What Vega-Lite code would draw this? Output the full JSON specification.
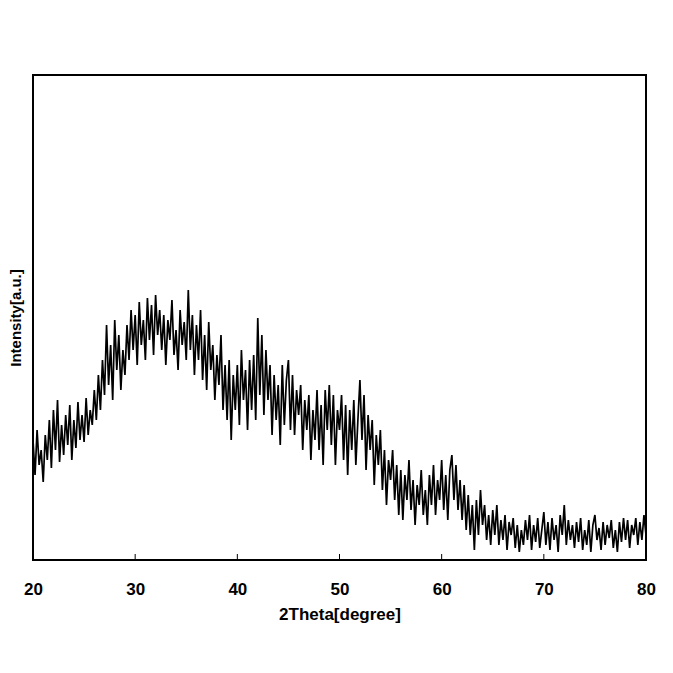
{
  "$schema": "https://vega.github.io/schema/vega-lite/v6.json",
  "autosize": "none",
  "width": 613,
  "height": 485,
  "padding": {"left": 33, "top": 75, "right": 27, "bottom": 113},
  "background": "white",
  "config": {
    "view": {"stroke": "black", "strokeWidth": 2},
    "axis": {"grid": false, "domain": false}
  },
  "datasets": {
    "ticks": [{"t":30},{"t":40},{"t":50},{"t":60},{"t":70}],
    "xrd": [
    {"t":20.0,"i":120},{"t":20.2,"i":85},{"t":20.4,"i":130},{"t":20.6,"i":95},{"t":20.8,"i":110},
    {"t":21.0,"i":78},{"t":21.2,"i":125},{"t":21.4,"i":100},{"t":21.6,"i":140},{"t":21.8,"i":92},
    {"t":22.0,"i":150},{"t":22.2,"i":110},{"t":22.4,"i":160},{"t":22.6,"i":98},{"t":22.8,"i":135},
    {"t":23.0,"i":105},{"t":23.2,"i":145},{"t":23.4,"i":115},{"t":23.6,"i":155},{"t":23.8,"i":100},
    {"t":24.0,"i":140},{"t":24.2,"i":112},{"t":24.4,"i":158},{"t":24.6,"i":120},{"t":24.8,"i":145},
    {"t":25.0,"i":118},{"t":25.2,"i":162},{"t":25.4,"i":125},{"t":25.6,"i":150},{"t":25.8,"i":135},
    {"t":26.0,"i":170},{"t":26.2,"i":140},{"t":26.4,"i":185},{"t":26.6,"i":150},{"t":26.8,"i":200},
    {"t":27.0,"i":165},{"t":27.2,"i":235},{"t":27.4,"i":175},{"t":27.6,"i":215},{"t":27.8,"i":160},
    {"t":28.0,"i":240},{"t":28.2,"i":190},{"t":28.4,"i":225},{"t":28.6,"i":170},{"t":28.8,"i":210},
    {"t":29.0,"i":185},{"t":29.2,"i":235},{"t":29.4,"i":200},{"t":29.6,"i":250},{"t":29.8,"i":210},
    {"t":30.0,"i":245},{"t":30.2,"i":195},{"t":30.4,"i":258},{"t":30.6,"i":215},{"t":30.8,"i":240},
    {"t":31.0,"i":200},{"t":31.2,"i":262},{"t":31.4,"i":220},{"t":31.6,"i":255},{"t":31.8,"i":205},
    {"t":32.0,"i":265},{"t":32.2,"i":225},{"t":32.4,"i":250},{"t":32.6,"i":210},{"t":32.8,"i":245},
    {"t":33.0,"i":195},{"t":33.2,"i":240},{"t":33.4,"i":220},{"t":33.6,"i":260},{"t":33.8,"i":205},
    {"t":34.0,"i":230},{"t":34.2,"i":190},{"t":34.4,"i":250},{"t":34.6,"i":215},{"t":34.8,"i":238},
    {"t":35.0,"i":200},{"t":35.2,"i":270},{"t":35.4,"i":210},{"t":35.6,"i":245},{"t":35.8,"i":185},
    {"t":36.0,"i":235},{"t":36.2,"i":200},{"t":36.4,"i":250},{"t":36.6,"i":180},{"t":36.8,"i":225},
    {"t":37.0,"i":170},{"t":37.2,"i":238},{"t":37.4,"i":190},{"t":37.6,"i":215},{"t":37.8,"i":160},
    {"t":38.0,"i":205},{"t":38.2,"i":175},{"t":38.4,"i":225},{"t":38.6,"i":150},{"t":38.8,"i":195},
    {"t":39.0,"i":140},{"t":39.2,"i":200},{"t":39.4,"i":120},{"t":39.6,"i":185},{"t":39.8,"i":150},
    {"t":40.0,"i":195},{"t":40.2,"i":135},{"t":40.4,"i":210},{"t":40.6,"i":160},{"t":40.8,"i":190},
    {"t":41.0,"i":130},{"t":41.2,"i":200},{"t":41.4,"i":150},{"t":41.6,"i":205},{"t":41.8,"i":140},
    {"t":42.0,"i":242},{"t":42.2,"i":165},{"t":42.4,"i":225},{"t":42.6,"i":145},{"t":42.8,"i":210},
    {"t":43.0,"i":160},{"t":43.2,"i":195},{"t":43.4,"i":125},{"t":43.6,"i":185},{"t":43.8,"i":140},
    {"t":44.0,"i":175},{"t":44.2,"i":115},{"t":44.4,"i":195},{"t":44.6,"i":135},{"t":44.8,"i":180},
    {"t":45.0,"i":200},{"t":45.2,"i":130},{"t":45.4,"i":185},{"t":45.6,"i":125},{"t":45.8,"i":170},
    {"t":46.0,"i":145},{"t":46.2,"i":175},{"t":46.4,"i":110},{"t":46.6,"i":160},{"t":46.8,"i":130},
    {"t":47.0,"i":165},{"t":47.2,"i":100},{"t":47.4,"i":150},{"t":47.6,"i":120},{"t":47.8,"i":170},
    {"t":48.0,"i":110},{"t":48.2,"i":155},{"t":48.4,"i":95},{"t":48.6,"i":170},{"t":48.8,"i":130},
    {"t":49.0,"i":175},{"t":49.2,"i":115},{"t":49.4,"i":165},{"t":49.6,"i":95},{"t":49.8,"i":150},
    {"t":50.0,"i":130},{"t":50.2,"i":165},{"t":50.4,"i":100},{"t":50.6,"i":155},{"t":50.8,"i":85},
    {"t":51.0,"i":150},{"t":51.2,"i":110},{"t":51.4,"i":160},{"t":51.6,"i":95},{"t":51.8,"i":140},
    {"t":52.0,"i":180},{"t":52.2,"i":120},{"t":52.4,"i":165},{"t":52.6,"i":90},{"t":52.8,"i":145},
    {"t":53.0,"i":110},{"t":53.2,"i":140},{"t":53.4,"i":75},{"t":53.6,"i":125},{"t":53.8,"i":95},
    {"t":54.0,"i":130},{"t":54.2,"i":70},{"t":54.4,"i":110},{"t":54.6,"i":55},{"t":54.8,"i":100},
    {"t":55.0,"i":80},{"t":55.2,"i":110},{"t":55.4,"i":60},{"t":55.6,"i":95},{"t":55.8,"i":45},
    {"t":56.0,"i":90},{"t":56.2,"i":40},{"t":56.4,"i":85},{"t":56.6,"i":60},{"t":56.8,"i":100},
    {"t":57.0,"i":50},{"t":57.2,"i":80},{"t":57.4,"i":35},{"t":57.6,"i":75},{"t":57.8,"i":55},
    {"t":58.0,"i":90},{"t":58.2,"i":45},{"t":58.4,"i":70},{"t":58.6,"i":35},{"t":58.8,"i":85},
    {"t":59.0,"i":55},{"t":59.2,"i":95},{"t":59.4,"i":45},{"t":59.6,"i":80},{"t":59.8,"i":60},
    {"t":60.0,"i":100},{"t":60.2,"i":50},{"t":60.4,"i":85},{"t":60.6,"i":40},{"t":60.8,"i":90},
    {"t":61.0,"i":105},{"t":61.2,"i":60},{"t":61.4,"i":95},{"t":61.6,"i":50},{"t":61.8,"i":80},
    {"t":62.0,"i":40},{"t":62.2,"i":75},{"t":62.4,"i":30},{"t":62.6,"i":65},{"t":62.8,"i":25},
    {"t":63.0,"i":55},{"t":63.2,"i":10},{"t":63.4,"i":60},{"t":63.6,"i":25},{"t":63.8,"i":70},
    {"t":64.0,"i":35},{"t":64.2,"i":55},{"t":64.4,"i":20},{"t":64.6,"i":45},{"t":64.8,"i":15},
    {"t":65.0,"i":50},{"t":65.2,"i":25},{"t":65.4,"i":55},{"t":65.6,"i":15},{"t":65.8,"i":40},
    {"t":66.0,"i":20},{"t":66.2,"i":45},{"t":66.4,"i":10},{"t":66.6,"i":38},{"t":66.8,"i":25},
    {"t":67.0,"i":42},{"t":67.2,"i":12},{"t":67.4,"i":35},{"t":67.6,"i":8},{"t":67.8,"i":30},
    {"t":68.0,"i":15},{"t":68.2,"i":40},{"t":68.4,"i":20},{"t":68.6,"i":45},{"t":68.8,"i":10},
    {"t":69.0,"i":35},{"t":69.2,"i":18},{"t":69.4,"i":42},{"t":69.6,"i":12},{"t":69.8,"i":30},
    {"t":70.0,"i":48},{"t":70.2,"i":15},{"t":70.4,"i":38},{"t":70.6,"i":10},{"t":70.8,"i":42},
    {"t":71.0,"i":20},{"t":71.2,"i":35},{"t":71.4,"i":8},{"t":71.6,"i":45},{"t":71.8,"i":25},
    {"t":72.0,"i":55},{"t":72.2,"i":15},{"t":72.4,"i":40},{"t":72.6,"i":20},{"t":72.8,"i":35},
    {"t":73.0,"i":12},{"t":73.2,"i":38},{"t":73.4,"i":18},{"t":73.6,"i":42},{"t":73.8,"i":10},
    {"t":74.0,"i":30},{"t":74.2,"i":15},{"t":74.4,"i":40},{"t":74.6,"i":8},{"t":74.8,"i":35},
    {"t":75.0,"i":45},{"t":75.2,"i":20},{"t":75.4,"i":32},{"t":75.6,"i":10},{"t":75.8,"i":38},
    {"t":76.0,"i":15},{"t":76.2,"i":35},{"t":76.4,"i":22},{"t":76.6,"i":40},{"t":76.8,"i":12},
    {"t":77.0,"i":30},{"t":77.2,"i":8},{"t":77.4,"i":38},{"t":77.6,"i":18},{"t":77.8,"i":42},
    {"t":78.0,"i":20},{"t":78.2,"i":40},{"t":78.4,"i":12},{"t":78.6,"i":35},{"t":78.8,"i":25},
    {"t":79.0,"i":42},{"t":79.2,"i":15},{"t":79.4,"i":38},{"t":79.6,"i":20},{"t":79.8,"i":45},
    {"t":80.0,"i":25}
    ]
  },
  "layer": [
    {
      "data": {"name": "xrd"},
      "mark": {"type": "line", "color": "black", "strokeWidth": 1.7, "clip": true},
      "encoding": {
        "x": {
          "field": "t", "type": "quantitative",
          "scale": {"domain": [20, 80], "nice": false, "zero": false},
          "axis": {
            "values": [20, 30, 40, 50, 60, 70, 80],
            "ticks": false,
            "labelFont": "Liberation Sans", "labelFontSize": 17, "labelFontWeight": "bold",
            "labelColor": "black", "labelPadding": 21, "labelFlush": false,
            "title": "2Theta[degree]", "titleFont": "Liberation Sans", "titleFontSize": 17,
            "titleFontWeight": "bold", "titleColor": "black", "titlePadding": 9
          }
        },
        "y": {
          "field": "i", "type": "quantitative",
          "scale": {"domain": [0, 485], "nice": false},
          "axis": {
            "labels": false, "ticks": false,
            "title": "Intensity[a.u.]", "titleFont": "Liberation Sans", "titleFontSize": 15,
            "titleFontWeight": "bold", "titleColor": "black", "titlePadding": 10
          }
        }
      }
    },
    {
      "data": {"name": "ticks"},
      "mark": {"type": "rule", "color": "black", "strokeWidth": 1},
      "encoding": {
        "x": {"field": "t", "type": "quantitative"},
        "y": {"datum": 0},
        "y2": {"datum": 6}
      }
    }
  ]
}
